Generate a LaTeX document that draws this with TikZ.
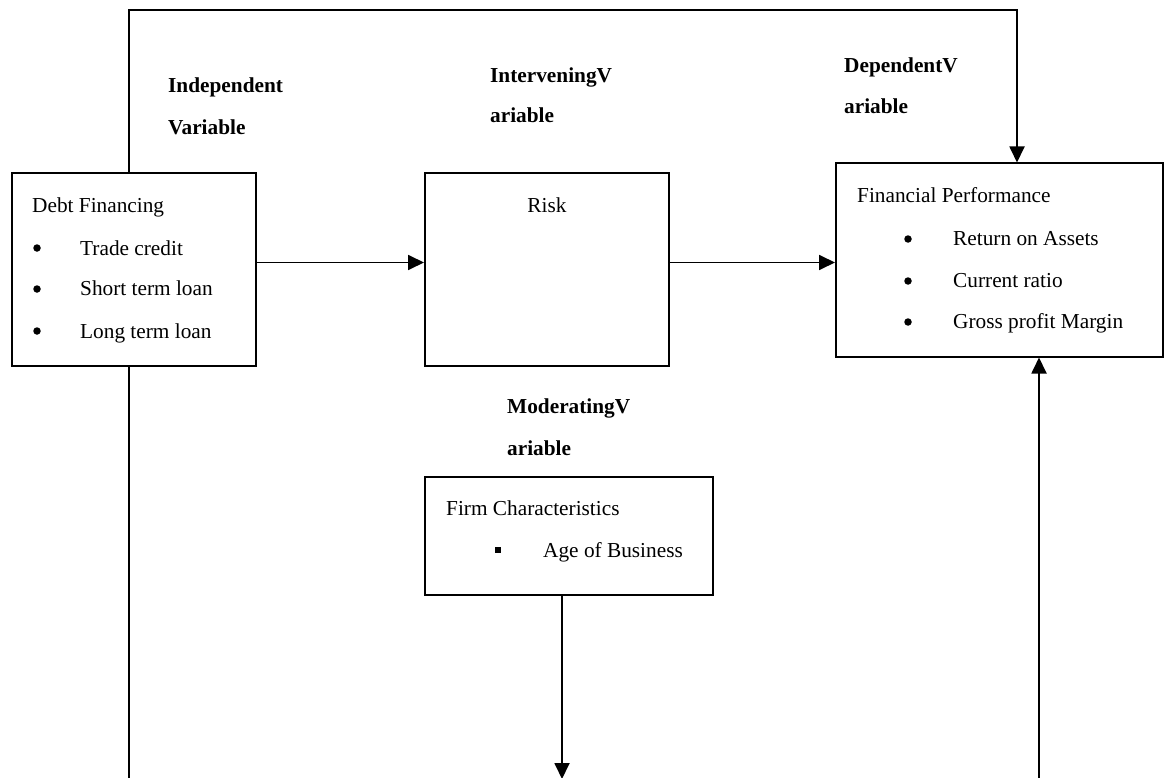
\documentclass[tikz,border=0pt]{standalone}
\usepackage{fontspec}
\setmainfont{Liberation Serif}
\usetikzlibrary{arrows.meta}
\begin{document}
\begin{tikzpicture}[x=1pt,y=-1pt,
  every node/.style={font=\fontsize{21.3}{25}\selectfont},
  box/.style={draw,line width=2pt,minimum width=#1,inner sep=0pt},
  txt/.style={anchor=base west,inner sep=0pt},
  hd/.style={anchor=base west,inner sep=0pt,font=\fontsize{21.3}{25}\selectfont\bfseries},
  bul/.style={circle,fill,minimum size=7.5pt,inner sep=0pt},
  line/.style={line width=1.8pt},
  arr/.style={line width=1.8pt,-{Triangle[length=16pt,width=15pt]}}]
\useasboundingbox (0,0) rectangle (1167,778);
% boxes
\node[box=244pt,minimum height=193pt] (debt) at (134,269.5) {};
\node[box=244pt,minimum height=193pt] (risk) at (547,269.5) {};
\node[box=327pt,minimum height=193pt] (fp) at (999.5,260) {};
\node[box=288pt,minimum height=118pt] (firm) at (569,536) {};
% headings
\node[hd] (h1a) at (168,93) {Independent};
\node[hd] (h1b) at (168,135) {Variable};
\node[hd] (h2a) at (490,83) {InterveningV};
\node[hd] (h2b) at (490,123) {ariable};
\node[hd] (h3a) at (844,73) {DependentV};
\node[hd] (h3b) at (844,114) {ariable};
\node[hd] (h4a) at (507,413) {ModeratingV};
\node[hd] (h4b) at (507,455) {ariable};
% debt content
\node[txt] (d0) at (32,213) {Debt Financing};
\node[bul] (db1) at (37,248) {};
\node[txt] (d1) at (80,255) {Trade credit};
\node[bul] (db2) at (37,289) {};
\node[txt] (d2) at (80,295) {Short term loan};
\node[bul] (db3) at (37,331) {};
\node[txt] (d3) at (80,338) {Long term loan};
% risk
\node[txt,anchor=base] (r0) at (547,212) {Risk};
% fp content
\node[txt] (f0) at (857,203) {Financial Performance};
\node[bul] (fb1) at (908,239) {};
\node[txt] (f1) at (953,245) {Return on Assets};
\node[bul] (fb2) at (908,281) {};
\node[txt] (f2) at (953,287) {Current ratio};
\node[bul] (fb3) at (908,322) {};
\node[txt] (f3) at (953,328) {Gross profit Margin};
% firm content
\node[txt] (m0) at (446,515) {Firm Characteristics};
\node[fill,minimum size=6pt,inner sep=0pt] (mb) at (498,550) {};
\node[txt] (m1) at (543,557) {Age of Business};
% coordinates
\coordinate (t1) at (129,10);
\coordinate (t2) at (1017,10);
\coordinate (ya) at (0,262.5);
\coordinate (b1) at (129,778);
\coordinate (b2) at (1039,778);
\coordinate (b3) at (562,779);
% connectors
\draw[arr] (debt.north -| t1) -- (t1) -- (t2) -- (fp.north -| t2);
\draw[arr] (debt.east |- ya) -- (risk.west |- ya);
\draw[arr] (risk.east |- ya) -- (fp.west |- ya);
\draw[line] (debt.south -| b1) -- (b1);
\draw[arr] (b2) -- (fp.south -| b2);
\draw[arr] (firm.south -| b3) -- (b3);
\end{tikzpicture}
\end{document}
